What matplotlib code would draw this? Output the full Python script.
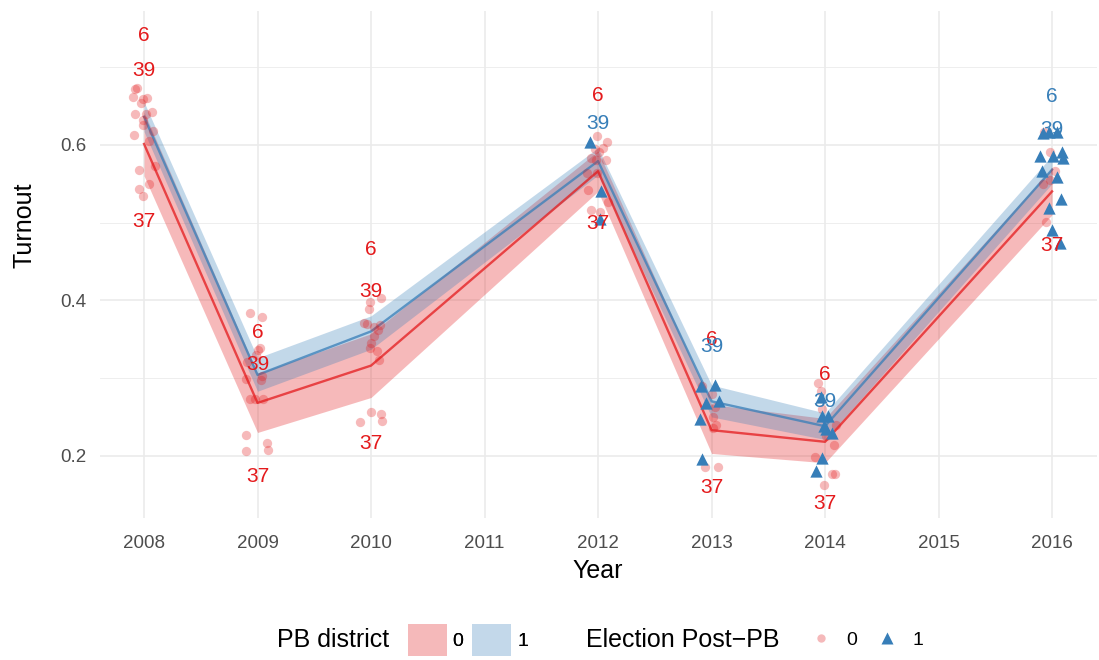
import matplotlib
matplotlib.use('Agg')
import matplotlib.pyplot as plt
from matplotlib.patches import Patch
from matplotlib.lines import Line2D
import numpy as np

plt.rcParams['font.family'] = ['Liberation Sans', 'DejaVu Sans']

# ---- data ----
line_years = [2008, 2009, 2010, 2012, 2013, 2014, 2016]
red_mean = [0.601, 0.268, 0.316, 0.566, 0.233, 0.218, 0.540]
red_lo = [0.560, 0.230, 0.275, 0.540, 0.203, 0.191, 0.510]
red_hi = [0.642, 0.306, 0.357, 0.592, 0.266, 0.248, 0.570]
blue_mean = [0.636, 0.304, 0.360, 0.579, 0.270, 0.238, 0.568]
blue_lo = [0.617, 0.283, 0.337, 0.561, 0.250, 0.221, 0.550]
blue_hi = [0.655, 0.326, 0.380, 0.596, 0.291, 0.255, 0.586]

# points, election post-PB = 0 (circles)
red_year = ([2008] * 19 + [2009] * 16 + [2010] * 17 + [2012] * 14 + [2013] * 8
            + [2014] * 10 + [2016] * 6)
red_dx = [-0.08, -0.06, -0.10, -0.01, 0.03, -0.03, -0.08, 0.02, 0.07, -0.01,
          -0.01, 0.08, -0.09, 0.04, -0.04, 0.10, 0.04, -0.04, -0.01,
          -0.07, 0.04, 0.00, -0.09, 0.04, 0.03, -0.10, -0.07, -0.02, 0.05,
          -0.10, 0.08, -0.10, 0.09, 0.02, -0.01,
          -0.01, 0.09, -0.02, -0.06, -0.04, 0.03, 0.06, 0.08, 0.03, 0.00,
          -0.01, 0.05, 0.07, 0.00, 0.09, -0.10, 0.10,
          -0.01, 0.08, 0.04, -0.03, 0.01, -0.06, 0.07, -0.02, -0.10, -0.01,
          -0.09, 0.09, -0.06, 0.02,
          -0.08, 0.00, 0.03, 0.01, 0.04, 0.01, -0.06, 0.06,
          -0.06, -0.04, 0.10, 0.08, 0.09, 0.06, -0.09, -0.01, 0.01, -0.03,
          -0.07, -0.02, 0.03, -0.08, -0.05, -0.02]
red_y = [0.672, 0.673, 0.662, 0.659, 0.660, 0.654, 0.639, 0.639, 0.642, 0.632,
         0.626, 0.618, 0.612, 0.605, 0.568, 0.573, 0.549, 0.543, 0.534,
         0.383, 0.379, 0.336, 0.321, 0.302, 0.298, 0.299, 0.273, 0.273, 0.273,
         0.227, 0.217, 0.206, 0.208, 0.338, 0.330,
         0.398, 0.403, 0.389, 0.371, 0.369, 0.366, 0.362, 0.368, 0.354, 0.345,
         0.339, 0.335, 0.323, 0.256, 0.254, 0.243, 0.245,
         0.611, 0.603, 0.596, 0.595, 0.591, 0.583, 0.581, 0.581, 0.564, 0.564,
         0.542, 0.527, 0.516, 0.514,
         0.290, 0.280, 0.263, 0.250, 0.240, 0.236, 0.186, 0.185,
         0.294, 0.283, 0.240, 0.214, 0.176, 0.177, 0.198, 0.163, 0.226, 0.260,
         0.617, 0.591, 0.566, 0.549, 0.501, 0.555]

# points, election post-PB = 1 (triangles)
blue_year = [2012] * 3 + [2013] * 6 + [2014] * 8 + [2016] * 13
blue_dx = [-0.07, 0.03, 0.02,
           -0.09, 0.03, -0.05, 0.07, -0.10, -0.08,
           -0.03, 0.03, -0.01, 0.01, 0.06, -0.03, -0.08, -0.04,
           -0.08, -0.03, 0.04, -0.11, 0.01, 0.09, 0.10, -0.09, 0.04, 0.08,
           -0.03, 0.00, 0.07]
blue_y = [0.603, 0.540, 0.505,
          0.290, 0.291, 0.268, 0.270, 0.247, 0.196,
          0.251, 0.251, 0.238, 0.234, 0.229, 0.197, 0.180, 0.276,
          0.615, 0.616, 0.616, 0.585, 0.585, 0.591, 0.583, 0.566, 0.559, 0.530,
          0.519, 0.491, 0.474]

# district labels
lab_year = [2008] * 3 + [2009] * 3 + [2010] * 3 + [2012] * 3 + [2013] * 3 + [2014] * 3 + [2016] * 3
lab_text = ['6', '39', '37'] * 7
lab_y = [0.741, 0.695, 0.501,
         0.359, 0.318, 0.174,
         0.465, 0.411, 0.216,
         0.663, 0.627, 0.499,
         0.349, 0.341, 0.159,
         0.304, 0.270, 0.139,
         0.662, 0.620, 0.471]
lab_post = [0, 0, 0, 0, 0, 0, 0, 0, 0,
            0, 1, 0, 0, 1, 0, 0, 1, 0,
            1, 1, 0]

year_ticks = list(range(2008, 2017))
turnout_ticks = [0.2, 0.4, 0.6]

RED = '#E41A1C'
BLUE = '#377EB8'
RED_FILL = '#F5B9BA'
BLUE_FILL = '#C3D8EA'

fig = plt.figure(figsize=(10.99, 6.6), dpi=100)
ax = fig.add_axes([100 / 1099, 1 - 518 / 660, 997 / 1099, 507 / 660])

ax.fill_between(line_years, red_lo, red_hi, color=RED, alpha=0.3, lw=0, zorder=1)
ax.fill_between(line_years, blue_lo, blue_hi, color=BLUE, alpha=0.3, lw=0, zorder=1)
ax.plot(line_years, red_mean, color=RED, lw=1.7, alpha=0.75, zorder=2)
ax.plot(line_years, blue_mean, color=BLUE, lw=1.7, alpha=0.75, zorder=2)

ax.scatter(np.array(red_year) + np.array(red_dx), red_y, s=45, marker='o',
           color=RED, alpha=0.3, lw=0, zorder=3)
ax.scatter(np.array(blue_year) + np.array(blue_dx), blue_y, s=78, marker='^',
           color=BLUE, lw=0, zorder=4)

for yr, t, yv, p in zip(lab_year, lab_text, lab_y, lab_post):
    ax.text(yr, yv, t, color=BLUE if p else RED, fontsize=15,
            ha='center', va='center', zorder=5)

ax.set_xlim(2007.612, 2016.396)
ax.set_ylim(0.120, 0.772)
ax.set_xticks(year_ticks)
ax.set_yticks(turnout_ticks)
ax.set_yticklabels(['0.2', '0.4', '0.6'])
ax.set_yticks([0.3, 0.5, 0.7], minor=True)
ax.grid(which='major', color='#EBEBEB', lw=1.2, zorder=0)
ax.grid(which='minor', axis='y', color='#EBEBEB', lw=0.6, zorder=0)
ax.set_axisbelow(True)
ax.tick_params(which='both', length=0, labelsize=13.5, colors='#4D4D4D')
ax.tick_params(axis='y', pad=10)
ax.tick_params(axis='x', pad=12)
for s in ax.spines.values():
    s.set_visible(False)

fig.text(598 / 1099, 1 - 571 / 660, 'Year', fontsize=18, ha='center', va='center')
fig.text(25 / 1099, 1 - 225 / 660, 'Turnout', fontsize=18, ha='center', va='center',
         rotation=90)

ly = 1 - 640 / 660
fig.text(277 / 1099, ly, 'PB district', fontsize=18, ha='left', va='center')
fig.text(586 / 1099, ly, 'Election Post\u2212PB', fontsize=18, ha='left', va='center')

leg1 = fig.legend(handles=[Patch(facecolor=RED_FILL, lw=0),
                           Patch(facecolor=BLUE_FILL, lw=0)],
                  labels=['0', '1'], ncol=2, loc='center left',
                  bbox_to_anchor=(408 / 1099, ly), frameon=False, fontsize=14,
                  handlelength=2.0, handleheight=2.2, handletextpad=0.3,
                  columnspacing=0.45, borderpad=0, borderaxespad=0)
leg2 = fig.legend(handles=[Line2D([], [], marker='o', ls='none', color=RED_FILL,
                                  markersize=6, mec='none'),
                           Line2D([], [], marker='^', ls='none', color=BLUE,
                                  markersize=8.5, mec='none')],
                  labels=['0', '1'], ncol=2, loc='center left',
                  bbox_to_anchor=(811 / 1099, ly), frameon=False, fontsize=14,
                  handlelength=1.0, handletextpad=0.8, columnspacing=1.05,
                  borderpad=0, borderaxespad=0)
fig.add_artist(leg1)

fig.savefig('out.png', dpi=100)
